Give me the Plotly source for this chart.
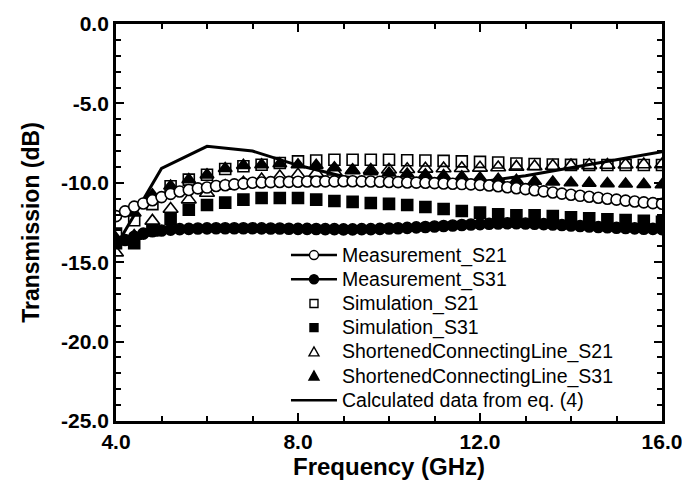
import plotly.graph_objects as go

# ---------------- data ----------------
meas_freq = [4.0, 4.2, 4.4, 4.6, 4.8, 5.0, 5.2, 5.4, 5.6, 5.8, 6.0, 6.2, 6.4, 6.6, 6.8,
             7.0, 7.2, 7.4, 7.6, 7.8, 8.0, 8.2, 8.4, 8.6, 8.8, 9.0, 9.2, 9.4, 9.6, 9.8,
             10.0, 10.2, 10.4, 10.6, 10.8, 11.0, 11.2, 11.4, 11.6, 11.8, 12.0, 12.2, 12.4,
             12.6, 12.8, 13.0, 13.2, 13.4, 13.6, 13.8, 14.0, 14.2, 14.4, 14.6, 14.8, 15.0,
             15.2, 15.4, 15.6, 15.8, 16.0]
meas_s21 = [-12.1, -11.8, -11.5, -11.3, -11.1, -10.9, -10.7, -10.55, -10.45, -10.35, -10.3,
            -10.2, -10.15, -10.1, -10.05, -10.0, -9.98, -9.96, -9.95, -9.94, -9.93, -9.92,
            -9.92, -9.91, -9.91, -9.9, -9.9, -9.91, -9.92, -9.93, -9.95, -9.96, -9.98, -9.99,
            -10.0, -10.02, -10.04, -10.06, -10.08, -10.1, -10.13, -10.17, -10.22, -10.28,
            -10.34, -10.4, -10.47, -10.54, -10.61, -10.68, -10.75, -10.82, -10.88, -10.94,
            -11.0, -11.06, -11.12, -11.18, -11.23, -11.28, -11.32]
meas_s31 = [-13.7, -13.6, -13.4, -13.2, -13.05, -13.0, -12.95, -12.92, -12.9, -12.88, -12.87,
            -12.86, -12.86, -12.86, -12.86, -12.86, -12.87, -12.88, -12.88, -12.89, -12.9,
            -12.9, -12.91, -12.92, -12.92, -12.93, -12.93, -12.92, -12.92, -12.9, -12.88,
            -12.86, -12.84, -12.81, -12.78, -12.75, -12.72, -12.69, -12.66, -12.63, -12.6,
            -12.58, -12.56, -12.55, -12.55, -12.56, -12.58, -12.6, -12.63, -12.66, -12.69,
            -12.72, -12.75, -12.78, -12.8, -12.83, -12.85, -12.87, -12.89, -12.9, -12.92]

sim_freq = [4.0, 4.4, 4.8, 5.2, 5.6, 6.0, 6.4, 6.8, 7.2, 7.6, 8.0, 8.4, 8.8, 9.2, 9.6, 10.0,
            10.4, 10.8, 11.2, 11.6, 12.0, 12.4, 12.8, 13.2, 13.6, 14.0, 14.4, 14.8, 15.2,
            15.6, 16.0]
sim_s21 = [-13.2, -12.36, -11.34, -10.22, -9.8, -9.49, -9.13, -8.96, -8.86, -8.75, -8.65,
           -8.6, -8.55, -8.55, -8.55, -8.55, -8.58, -8.6, -8.62, -8.65, -8.68, -8.72, -8.78,
           -8.82, -8.85, -8.87, -8.88, -8.88, -8.88, -8.88, -8.88]
sim_s31 = [-13.8, -13.8, -13.0, -12.3, -11.7, -11.4, -11.25, -11.06, -10.96, -10.96, -10.96,
           -11.06, -11.15, -11.2, -11.27, -11.33, -11.4, -11.52, -11.65, -11.78, -11.88,
           -11.98, -12.05, -12.05, -12.1, -12.18, -12.24, -12.3, -12.35, -12.4, -12.45]
short_s21 = [-14.4, -13.35, -12.4, -11.65, -11.06, -10.64, -10.2, -10.0, -9.8, -9.6, -9.5,
             -9.4, -9.3, -9.22, -9.2, -9.18, -9.15, -9.12, -9.1, -9.08, -9.06, -9.04, -9.0,
             -8.97, -8.94, -8.92, -8.9, -8.88, -8.86, -8.85, -8.85]
short_s31 = [-13.5, -11.9, -10.75, -10.2, -9.8, -9.5, -9.1, -8.9, -8.86, -8.8, -8.86, -8.9,
             -9.05, -9.2, -9.3, -9.38, -9.45, -9.5, -9.55, -9.62, -9.7, -9.78, -9.85, -9.9,
             -9.95, -10.0, -10.02, -10.05, -10.08, -10.1, -10.12]

calc_freq = [4, 5, 6, 7, 8, 9, 10, 11, 12, 13, 14, 15, 16]
calc_db = [-14.0, -9.1, -7.7, -8.0, -8.9, -9.6, -10.0, -10.1, -9.95, -9.55, -9.05, -8.55, -8.05]

names = ["Measurement_S21", "Measurement_S31", "Simulation_S21", "Simulation_S31",
         "ShortenedConnectingLine_S21", "ShortenedConnectingLine_S31",
         "Calculated data from eq. (4)"]

x_ticks = [4.0, 8.0, 12.0, 16.0]
x_ticktext = ["4.0", "8.0", "12.0", "16.0"]
y_ticks = [0.0, -5.0, -10.0, -15.0, -20.0, -25.0]
y_ticktext = ["0.0", "-5.0", "-10.0", "-15.0", "-20.0", "-25.0"]

# ---------------- figure ----------------
fig = go.Figure()
BLK = "black"
FONT = "Liberation Sans, Arial, sans-serif"

def mk(symbol, size, lw=1.6):
    return dict(symbol=symbol, size=size, color=BLK, line=dict(color=BLK, width=lw))

fig.add_trace(go.Scatter(x=calc_freq, y=calc_db, mode="lines", name=names[6],
                         line=dict(color=BLK, width=3)))
fig.add_trace(go.Scatter(x=meas_freq, y=meas_s31, mode="lines+markers", name=names[1],
                         line=dict(color=BLK, width=2), marker=mk("circle", 11)))
fig.add_trace(go.Scatter(x=sim_freq, y=sim_s31, mode="markers", name=names[3],
                         marker=mk("square", 11)))
fig.add_trace(go.Scatter(x=sim_freq, y=sim_s21, mode="markers", name=names[2],
                         marker=mk("square-open", 11)))
fig.add_trace(go.Scatter(x=sim_freq, y=short_s21, mode="markers", name=names[4],
                         marker=mk("triangle-up-open", 13)))
fig.add_trace(go.Scatter(x=sim_freq, y=short_s31, mode="markers", name=names[5],
                         marker=mk("triangle-up", 12)))
fig.add_trace(go.Scatter(x=meas_freq, y=meas_s21, mode="lines+markers", name=names[0],
                         line=dict(color=BLK, width=2),
                         marker=dict(symbol="circle", size=11, color="white",
                                     line=dict(color=BLK, width=1.6))))

# ---- legend drawn as text + pixel-sized key shapes (tight row spacing) ----
PLOT_H = 397.0
row_y0 = 0.418          # paper y of first legend row
row_dy = 24.2 / PLOT_H  # px between rows
key_x = 0.3626          # paper x of key centre
text_x = 0.411          # paper x of legend text start

key_kinds = ["line_open_circle", "line_filled_circle", "open_square", "filled_square",
             "open_triangle", "filled_triangle", "line"]
shapes = []
annotations = []
for i, (nm, kind) in enumerate(zip(names, key_kinds)):
    yr = row_y0 - i * row_dy
    base = dict(xref="paper", yref="paper", xsizemode="pixel", ysizemode="pixel",
                xanchor=key_x, yanchor=yr)
    if kind.startswith("line"):
        shapes.append(dict(type="line", x0=-23, x1=23, y0=0, y1=0,
                           line=dict(color=BLK, width=2.5), **base))
    if kind.endswith("circle"):
        fill = "white" if "open" in kind else BLK
        shapes.append(dict(type="circle", x0=-4.5, x1=4.5, y0=-4.5, y1=4.5,
                           fillcolor=fill, line=dict(color=BLK, width=1.4), **base))
    if kind.endswith("square"):
        fill = "white" if "open" in kind else BLK
        shapes.append(dict(type="rect", x0=-4, x1=4, y0=-4, y1=4,
                           fillcolor=fill, line=dict(color=BLK, width=1.4), **base))
    if kind.endswith("triangle"):
        fill = "white" if "open" in kind else BLK
        shapes.append(dict(type="path", path="M -5,-4 L 5,-4 L 0,5 Z",
                           fillcolor=fill, line=dict(color=BLK, width=1.4), **base))
    annotations.append(dict(xref="paper", yref="paper", x=text_x, y=yr,
                            xanchor="left", yanchor="middle", showarrow=False, text=nm,
                            font=dict(family=FONT, size=19.5, color=BLK)))

axis_common = dict(
    showline=True, linecolor=BLK, linewidth=2.8, mirror="ticks",
    ticks="inside", ticklen=8, tickwidth=2, tickcolor=BLK,
    showgrid=False, zeroline=False,
    tickfont=dict(family=FONT, size=21, color=BLK, weight="bold"),
)

fig.update_xaxes(range=[4, 16], tickvals=x_ticks, ticktext=x_ticktext, automargin=True,
                 minor=dict(dtick=1, ticks="inside", ticklen=5, tickwidth=2, tickcolor=BLK),
                 title=dict(text="<b>Frequency (GHz)</b>", standoff=5,
                            font=dict(family=FONT, size=24, color=BLK)),
                 **axis_common)
fig.update_yaxes(range=[-25, 0], tickvals=y_ticks, ticktext=y_ticktext, automargin=False,
                 minor=dict(dtick=1, ticks="inside", ticklen=5, tickwidth=2, tickcolor=BLK),
                 title=dict(text="<b>Transmission (dB)</b>",
                            font=dict(family=FONT, size=23, color=BLK)),
                 **axis_common)

fig.update_layout(
    width=690, height=482,
    margin=dict(l=108, r=36, t=16, b=69),
    paper_bgcolor="white", plot_bgcolor="white",
    showlegend=False,
    shapes=shapes,
    annotations=annotations,
)

fig.write_html("out.html")
